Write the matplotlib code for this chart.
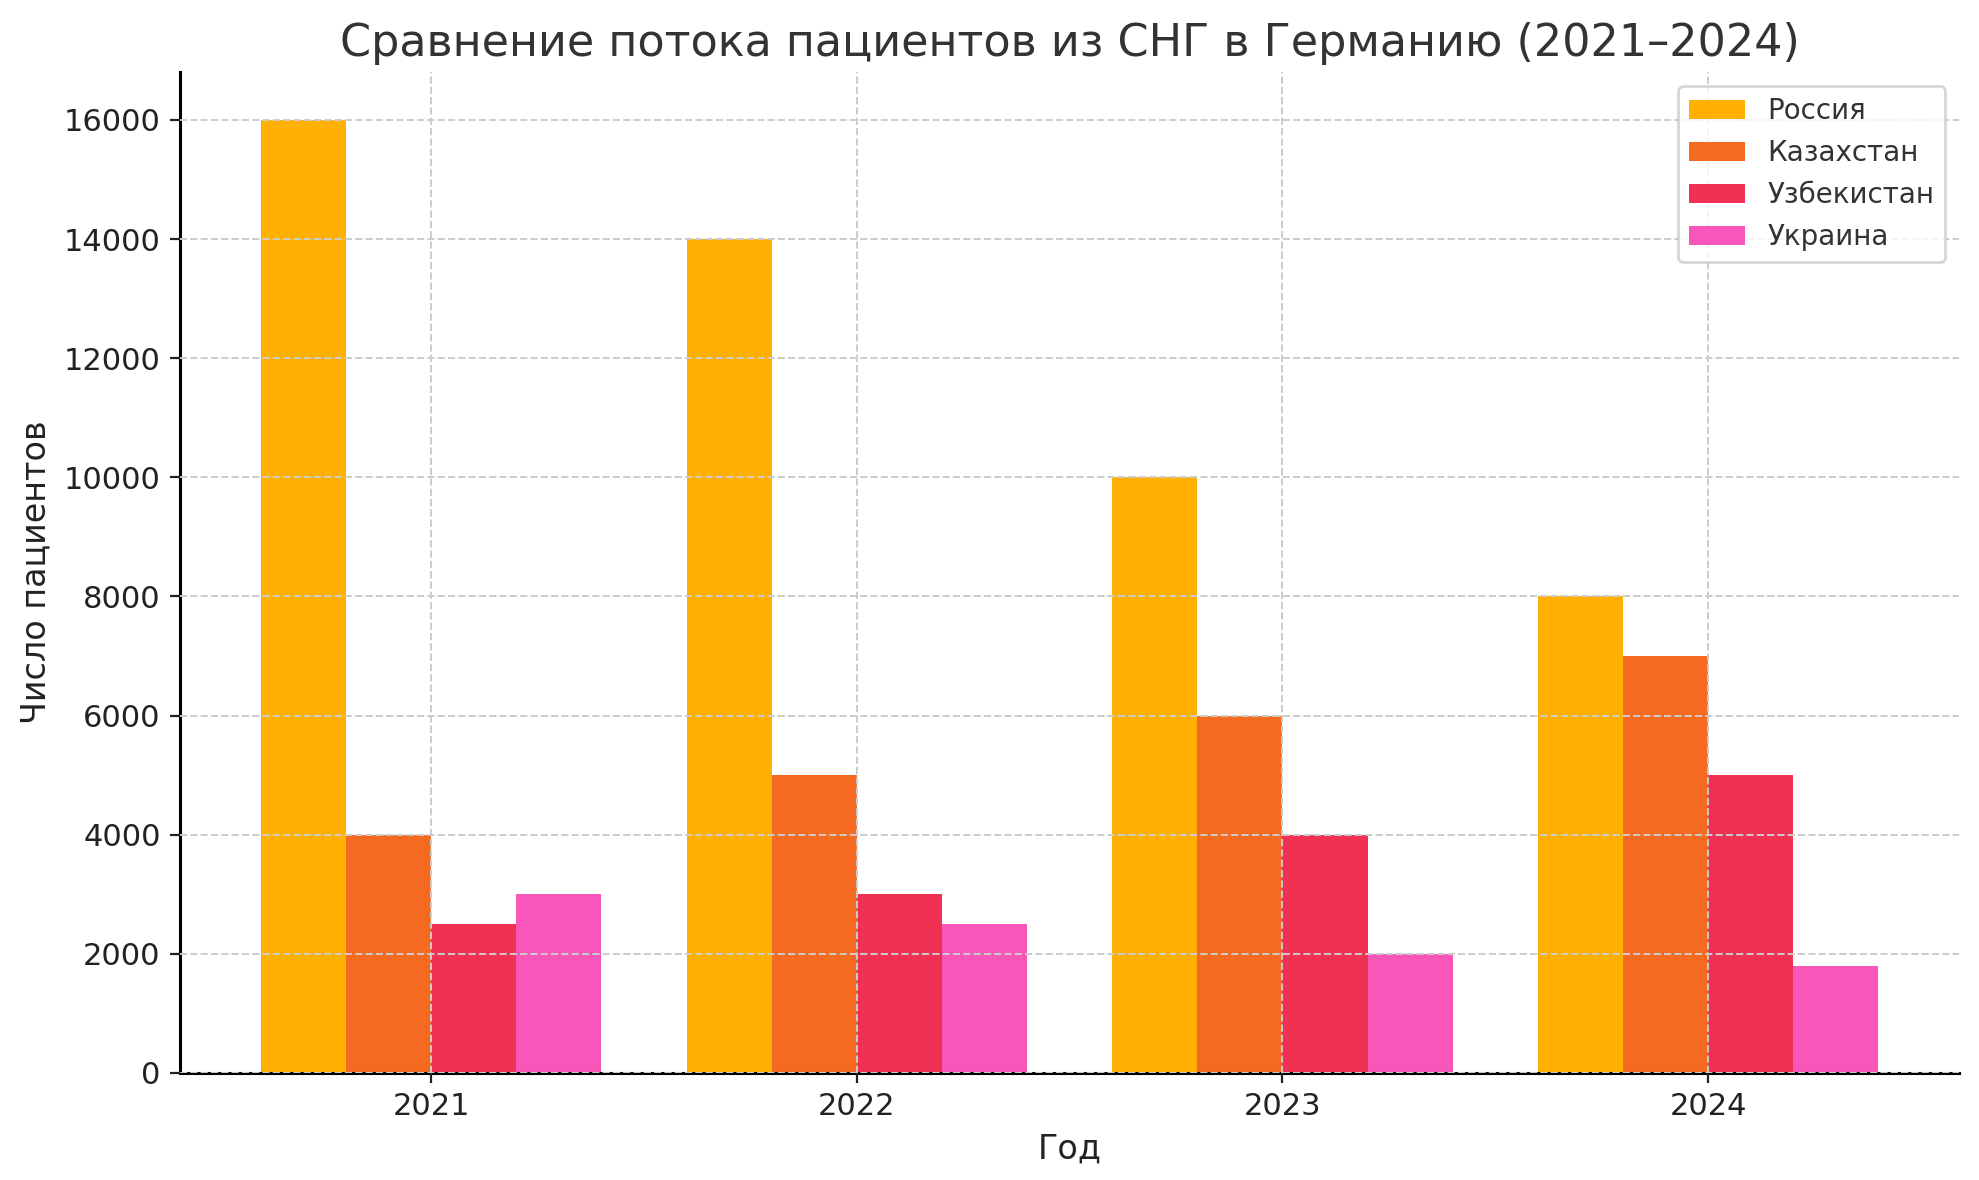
import matplotlib
matplotlib.use("Agg")
import matplotlib.pyplot as plt
import numpy as np

years = ["2021", "2022", "2023", "2024"]
countries = ["Россия", "Казахстан", "Узбекистан", "Украина"]
russia = [16000, 14000, 10000, 8000]
kazakhstan = [4000, 5000, 6000, 7000]
uzbekistan = [2500, 3000, 4000, 5000]
ukraine = [3000, 2500, 2000, 1800]
colors = ["#FFB000", "#F56A21", "#F03154", "#F857B9"]

series = [russia, kazakhstan, uzbekistan, ukraine]

fig = plt.figure(figsize=(9.895, 5.9), dpi=200)
ax = fig.add_axes([0.091, 0.0907, 0.899, 0.848])

x = np.arange(len(years))
w = 0.2
for i, (name, vals, c) in enumerate(zip(countries, series, colors)):
    ax.bar(x + (i - 1.5) * w, vals, width=w, color=c, label=name, zorder=2)

ax.set_xticks(x)
ax.set_xticklabels(years)
ax.set_yticks(np.arange(0, 16001, 2000))
ax.tick_params(labelsize=11, colors="#222222")
ax.set_xlabel("Год", fontsize=12, color="#222222")
ax.set_ylabel("Число пациентов", fontsize=12, color="#222222")
ax.set_title("Сравнение потока пациентов из СНГ в Германию (2021–2024)", fontsize=16, color="#333333")
ax.grid(True, linestyle="--", color="#cccccc", linewidth=0.7, zorder=0)
ax.set_axisbelow(False)
for s in ["top", "right"]:
    ax.spines[s].set_visible(False)
for s in ["left", "bottom"]:
    ax.spines[s].set_linewidth(1.1)
leg = ax.legend(fontsize=10, loc="upper right", labelcolor="#333333")
fig.savefig("out.png", dpi=200)
